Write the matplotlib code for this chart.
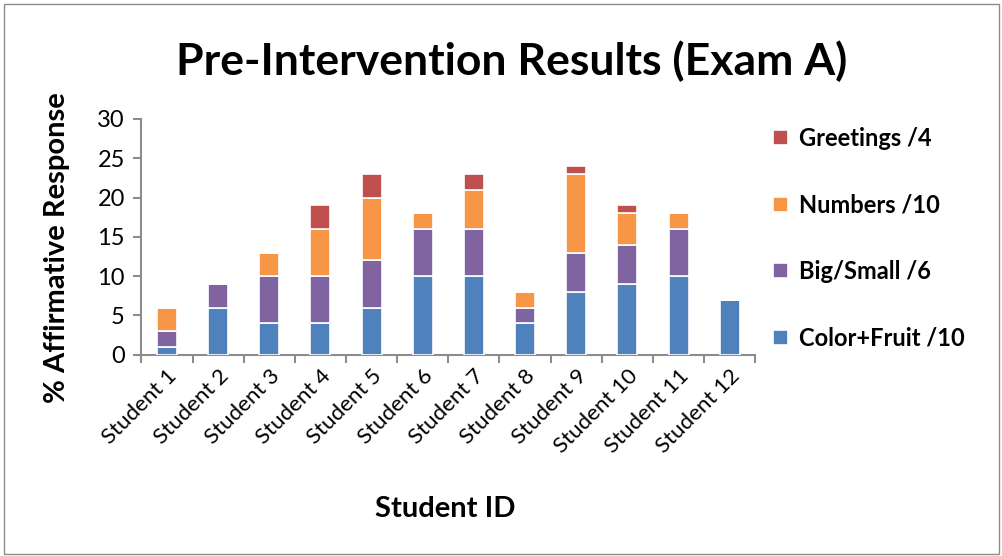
import numpy as np
import matplotlib
matplotlib.use("Agg")
from matplotlib import pyplot as plt
from matplotlib.patches import Rectangle

plt.rcParams['font.family'] = ['Lato', 'DejaVu Sans']

students = ['Student %d' % i for i in range(1, 13)]
color_fruit = [1, 6, 4, 4, 6, 10, 10, 4, 8, 9, 10, 7]
big_small = [2, 3, 6, 6, 6, 6, 6, 2, 5, 5, 6, 0]
numbers = [3, 0, 3, 6, 8, 2, 5, 2, 10, 4, 2, 0]
greetings = [0, 0, 0, 3, 3, 0, 2, 0, 1, 1, 0, 0]

series = [
    ('Color+Fruit /10', color_fruit, '#4f81bd'),
    ('Big/Small /6', big_small, '#8064a2'),
    ('Numbers /10', numbers, '#f79646'),
    ('Greetings /4', greetings, '#c0504d'),
]

fig = plt.figure(figsize=(10.03, 5.56), dpi=100)
fig.patches.append(Rectangle((0.004, 0.003), 0.992, 0.99, transform=fig.transFigure,
                             fill=False, edgecolor='#8c8c8c', linewidth=1))
ax = fig.add_axes([0.141, 0.362, 0.612, 0.424])

x = np.arange(len(students))
bottom = np.zeros(len(students))
handles = []
for name, vals, col in series:
    vals = np.array(vals, dtype=float)
    b = ax.bar(x, vals, width=0.39, bottom=bottom, color=col, edgecolor='white',
               linewidth=1.2, label=name, zorder=3)
    handles.append(b)
    bottom += vals

ax.set_xlim(-0.5, len(students) - 0.5)
ax.set_ylim(0, 30)
ax.set_yticks(range(0, 31, 5))
ax.set_xticks(np.arange(-0.5, len(students), 1.0), minor=False)
ax.set_xticklabels([])
ax.set_xticks(x, minor=True)
ax.set_xticklabels(students, minor=True, rotation=45, ha='right', rotation_mode='anchor',
                   fontsize=16)
ax.tick_params(axis='x', which='minor', length=0, pad=8)
ax.tick_params(axis='x', which='major', length=6, direction='out', color='#8c8c8c', width=1.5)
ax.tick_params(axis='y', length=6, direction='out', color='#8c8c8c', width=1.5,
               labelsize=17, pad=6)
for s in ['top', 'right']:
    ax.spines[s].set_visible(False)
for s in ['left', 'bottom']:
    ax.spines[s].set_color('#8c8c8c')
    ax.spines[s].set_linewidth(1.5)

ax.set_ylabel('% Affirmative Response', fontsize=21, fontweight='bold')
ax.yaxis.set_label_coords(-0.116, 0.455)
ax.set_xlabel('Student ID', fontsize=21, fontweight='bold')
ax.xaxis.set_label_coords(0.495, -0.60)
fig.suptitle('Pre-Intervention Results (Exam A)', x=0.51, y=0.928, fontsize=32,
             fontweight='bold')

leg = fig.legend(handles[::-1], [s[0] for s in series][::-1], loc='upper left',
                 bbox_to_anchor=(0.75, 0.81), frameon=False,
                 prop={'weight': 'bold', 'size': 17}, handlelength=0.6, handleheight=0.6,
                 labelspacing=1.85, handletextpad=0.5)

fig.savefig('out.png', dpi=100)
